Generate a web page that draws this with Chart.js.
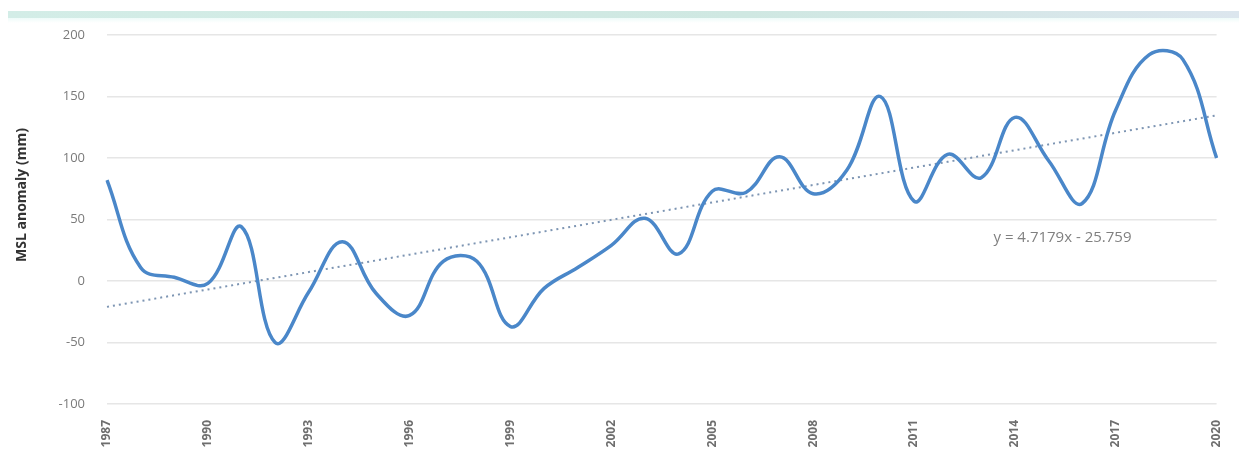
<!DOCTYPE html>
<html>
<head>
<meta charset="utf-8">
<script src="https://cdn.jsdelivr.net/npm/chart.js@4.4.1/dist/chart.umd.min.js"></script>
<style>
  html, body { margin: 0; padding: 0; background: #fff; }
  #wrap { position: relative; width: 1239px; height: 461px; }
  #band { position: absolute; left: 8px; top: 11px; width: 1231px; height: 7px;
          background: linear-gradient(to right, #d3ede7, #cfe8e2 60%, #dce6ee 100%); }
  #band2 { position: absolute; left: 8px; top: 18px; width: 1231px; height: 5px;
           background: linear-gradient(to bottom, #eefbf9, #fff); }
  canvas { position: absolute; left: 0; top: 0; }
</style>
</head>
<body>
<div id="wrap">
  <div id="band"></div>
  <div id="band2"></div>
  <canvas id="myChart" width="1239" height="461"></canvas>
</div>
<script>
// years on the x axis
var years = [1987, 1988, 1989, 1990, 1991, 1992, 1993, 1994, 1995, 1996,
             1997, 1998, 1999, 2000, 2001, 2002, 2003, 2004, 2005, 2006,
             2007, 2008, 2009, 2010, 2011, 2012, 2013, 2014, 2015, 2016,
             2017, 2018, 2019, 2020];

// MSL anomaly (mm)
var mslAnomaly = [82, 11, 3, -2, 44, -50, -9, 32, -10, -28,
                  16, 16, -37, -6, 11, 29, 51, 22, 73, 72,
                  101, 71, 90, 150, 65, 103, 84, 133, 98, 63,
                  139, 184, 180, 100];

// linear trend shown on the chart: y = 4.7179x - 25.759
var trendSlope = 4.7179;
var trendIntercept = -25.759;
var trendLabel = 'y = 4.7179x - 25.759';
var yTitle = 'MSL anomaly (mm)';

var yTicks = [-100, -50, 0, 50, 100, 150, 200];

var trend = years.map(function (y, i) { return trendSlope * (i + 1) + trendIntercept; });

// trend equation and the y axis title
var textPlugin = {
  id: 'texts',
  afterDatasetsDraw: function (chart) {
    var c = chart.ctx;
    var xs = chart.scales.x, ys = chart.scales.y;
    c.save();
    c.font = '15px "Open Sans", sans-serif';
    c.fillStyle = '#808080';
    c.textAlign = 'center';
    c.textBaseline = 'middle';
    c.fillText(trendLabel, xs.getPixelForValue(28) + 14, ys.getPixelForValue(35));

    c.translate(22, 195);
    c.rotate(-Math.PI / 2);
    c.font = 'bold 14px "Open Sans", sans-serif';
    c.fillStyle = '#333';
    c.fillText(yTitle, 0, 0);
    c.restore();
  }
};

const ctx = document.getElementById('myChart').getContext('2d');

var graphData = {
  type: 'line',
  data: {
    labels: years,
    datasets: [{
      label: 'MSL anomaly',
      data: mslAnomaly,
      borderColor: '#4a87c9',
      borderWidth: 3.5,
      pointRadius: 0,
      tension: 0.4,
      fill: false
    }, {
      label: 'Trend',
      data: trend,
      borderColor: '#7d95b3',
      borderWidth: 2,
      borderDash: [2, 4],
      pointRadius: 0,
      tension: 0,
      fill: false
    }]
  },
  options: {
    responsive: false,
    animation: false,
    layout: { padding: { top: 35, right: 10, bottom: 0, left: 0 } },
    plugins: { legend: { display: false }, tooltip: { enabled: false } },
    scales: {
      x: {
        type: 'category',
        offset: false,
        grid: { display: false },
        border: { display: false },
        ticks: {
          autoSkip: false,
          maxRotation: 90,
          minRotation: 90,
          color: '#6e6e6e',
          font: { family: '"Open Sans", sans-serif', size: 12, weight: 'bold' },
          padding: 8,
          callback: function (v, i) { return i % 3 === 0 ? years[i] : ''; }
        },
        afterFit: function (s) { s.height = 57; }
      },
      y: {
        min: -100,
        max: 200,
        afterBuildTicks: function (s) { s.ticks = yTicks.map(function (v) { return { value: v }; }); },
        grid: { color: '#e6e6e6', lineWidth: 1.5, drawTicks: false },
        border: { display: false },
        ticks: {
          color: '#7a7a7a',
          font: { family: '"Open Sans", sans-serif', size: 13 },
          padding: 22
        },
        afterFit: function (s) { s.width = 107; }
      }
    }
  },
  plugins: [textPlugin]
};

var myChart = new Chart(ctx, graphData);
</script>
</body>
</html>
